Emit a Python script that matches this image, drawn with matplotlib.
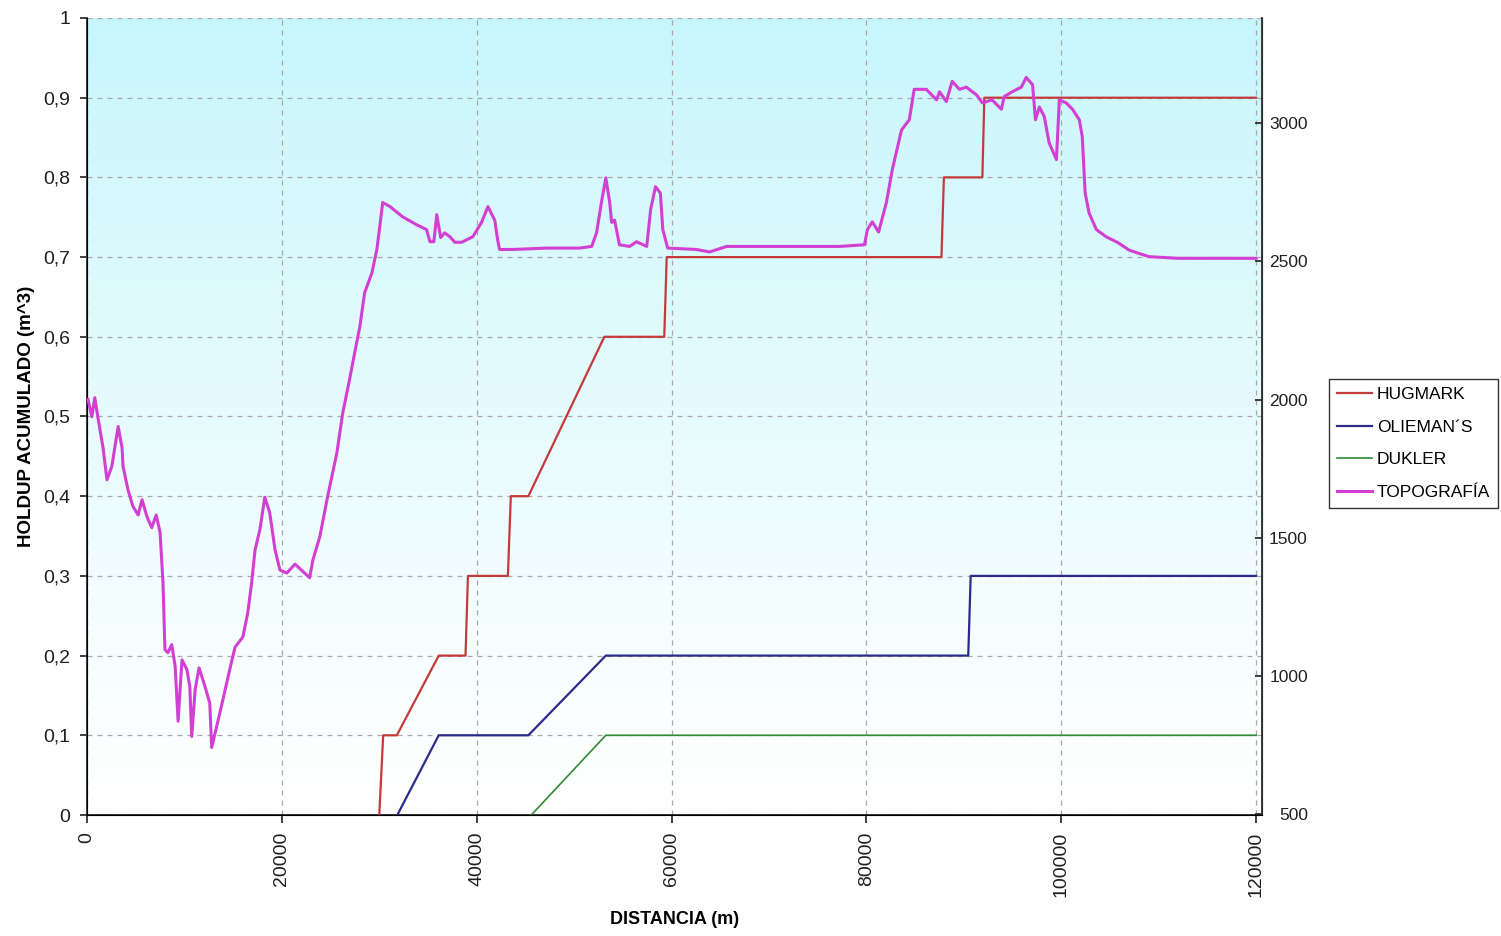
import matplotlib
matplotlib.use("Agg")
import matplotlib.pyplot as plt
import numpy as np
from matplotlib.ticker import FuncFormatter, MultipleLocator

plt.rcParams['font.family'] = ['Liberation Sans', 'DejaVu Sans']

# holdup acumulado (m^3) vs distancia (m)
hug_x = [30000, 30400, 31800, 36100, 38850, 39100, 43200, 43500, 45300, 53100,
         59250, 59500, 87700, 87950, 91900, 92100, 120000]
hug_y = [0, 0.1, 0.1, 0.2, 0.2, 0.3, 0.3, 0.4, 0.4, 0.6,
         0.6, 0.7, 0.7, 0.8, 0.8, 0.9, 0.9]

oli_x = [31850, 36100, 45300, 53250, 90450, 90700, 120000]
oli_y = [0, 0.1, 0.1, 0.2, 0.2, 0.3, 0.3]

duk_x = [45600, 53250, 120000]
duk_y = [0, 0.1, 0.1]

# topografia (m.s.n.m.) - eje secundario
topo_x = [100, 500, 800, 1100, 1650, 2050, 2550, 2850, 3200, 3600, 3700, 4200, 4700,
          5250, 5650, 6150, 6650, 7100, 7500, 7800, 8000, 8300, 8700, 9050, 9350,
          9750, 10250, 10550, 10750, 11100, 11500, 12100, 12600, 12800, 13300, 13950,
          14650, 15200, 16000, 16500, 16900, 17250, 17750, 18250, 18750, 19300, 19800,
          20500, 21350, 22150, 22850, 23200, 23900, 24700, 25650, 26250, 26950, 27500,
          28000, 28500, 29250, 29750, 30050, 30350, 31100, 32400, 33850, 34850, 35200,
          35600, 35900, 36300, 36700, 37250, 37750, 38450, 39600, 40500, 41150, 41850,
          42150, 42350, 43700, 47200, 50550, 51800, 52300, 52800, 53250, 53650, 53850,
          54150, 54650, 55700, 56400, 57450, 57850, 58350, 58850, 59100, 59600, 62550,
          63900, 65650, 77250, 79800, 80100, 80600, 81250, 82050, 82650, 83600, 84400,
          84900, 86150, 87200, 87500, 88200, 88800, 89550, 90250, 91300, 91900, 92900,
          93850, 94150, 94950, 95900, 96400, 97050, 97350, 97750, 98250, 98750, 99500,
          99800, 100500, 101150, 101850, 102150, 102450, 102850, 103600, 104600, 105750,
          107000, 109000, 112000, 120000]
topo_z = [2001, 1938, 2007, 1940, 1825, 1710, 1759, 1825, 1903, 1825, 1759, 1675, 1615,
          1583, 1638, 1577, 1537, 1583, 1520, 1338, 1096, 1085, 1114, 1036, 837,
          1059, 1024, 964, 782, 952, 1030, 964, 903, 742, 817, 915,
          1024, 1105, 1142, 1229, 1338, 1457, 1531, 1647, 1592, 1457, 1384,
          1373, 1405, 1379, 1356, 1422, 1505, 1650, 1808, 1952, 2073, 2174,
          2263, 2387, 2459, 2543, 2626, 2713, 2698, 2661, 2632, 2615, 2571,
          2571, 2669, 2586, 2603, 2589, 2569, 2569, 2589, 2641, 2698, 2649,
          2577, 2543, 2543, 2548, 2548, 2554, 2603, 2713, 2802, 2713, 2641,
          2649, 2560, 2554, 2571, 2554, 2687, 2770, 2747, 2615, 2548, 2543,
          2534, 2554, 2554, 2560, 2615, 2643, 2606, 2713, 2831, 2975, 3012,
          3122, 3122, 3084, 3113, 3078, 3151, 3122, 3130, 3102, 3073, 3084,
          3050, 3096, 3113, 3130, 3165, 3139, 3012, 3058, 3024, 2929, 2868,
          3084, 3073, 3050, 3012, 2952, 2747, 2675, 2615, 2589, 2569,
          2540, 2517, 2511, 2511]

fig = plt.figure(figsize=(15.01, 9.36), dpi=100)
ax = fig.add_axes([87/1501, 1-815/936, (1262-87)/1501, (815-18)/936])

# fondo degradado cian -> blanco
grad = np.linspace(1, 0, 256).reshape(-1, 1) ** 1.2
top = np.array([0.78, 0.965, 0.985])
img = 1 - grad[..., None] * (1 - top)[None, None, :]
ax.imshow(img, extent=[0, 1, 0, 1], transform=ax.transAxes, aspect='auto', zorder=0)

l1, = ax.plot(hug_x, hug_y, color='#c43a3a', lw=1.6, zorder=3)
l2, = ax.plot(oli_x, oli_y, color='#2b2b8a', lw=1.6, zorder=3)
l3, = ax.plot(duk_x, duk_y, color='#2e8a35', lw=1.2, zorder=3)

ax.set_xlim(0, 120600)
ax.set_ylim(0, 1)
ax.xaxis.set_major_locator(MultipleLocator(20000))
ax.yaxis.set_major_locator(MultipleLocator(0.1))
ax.yaxis.set_major_formatter(FuncFormatter(lambda v, p: ('%g' % round(v, 2)).replace('.', ',')))
ax.grid(True, color='#a8a8a8', ls=(0, (4, 4)), lw=0.9)
ax.spines['top'].set_visible(False)
ax.spines['left'].set_color('#303030')
ax.spines['bottom'].set_color('#202020')
ax.spines['left'].set_linewidth(1.3)
ax.spines['bottom'].set_linewidth(1.3)
ax.tick_params(axis='y', length=5, width=1.2, pad=7, labelsize=14, colors='#202020')
ax.tick_params(axis='x', length=6, width=1.2, pad=6, labelsize=14, labelrotation=90, colors='#202020')
ax.set_xlabel('DISTANCIA (m)', fontsize=13, fontweight='bold', labelpad=10)
ax.set_ylabel('HOLDUP ACUMULADO (m^3)', fontsize=13.5, fontweight='bold', labelpad=6)

ax2 = ax.twinx()
l4, = ax2.plot(topo_x, topo_z, color='#d23fd2', lw=2.2, zorder=4)
ax2.set_ylim(498, 3380)
ax2.set_yticks([500, 1000, 1500, 2000, 2500, 3000])
ax2.spines['top'].set_visible(False)
ax2.spines['right'].set_color('#303030')
ax2.spines['right'].set_linewidth(1.3)
ax2.tick_params(axis='y', direction='in', length=5, width=1.2, pad=33, labelsize=12.5, colors='#202020')
for lab in ax2.get_yticklabels():
    lab.set_horizontalalignment('right')

leg = fig.legend([l1, l2, l3, l4], ['HUGMARK', 'OLIEMAN´S', 'DUKLER', 'TOPOGRAFÍA'],
                 loc='center left', bbox_to_anchor=(1329/1501, 1-443.5/936),
                 prop={'size': 12.5}, frameon=True, fancybox=False,
                 handlelength=2.0, handletextpad=0.3, labelspacing=1.0,
                 borderpad=0.45, borderaxespad=0)
leg.get_frame().set_edgecolor('black')
leg.get_frame().set_linewidth(1.0)

fig.savefig('out.png', dpi=100)
